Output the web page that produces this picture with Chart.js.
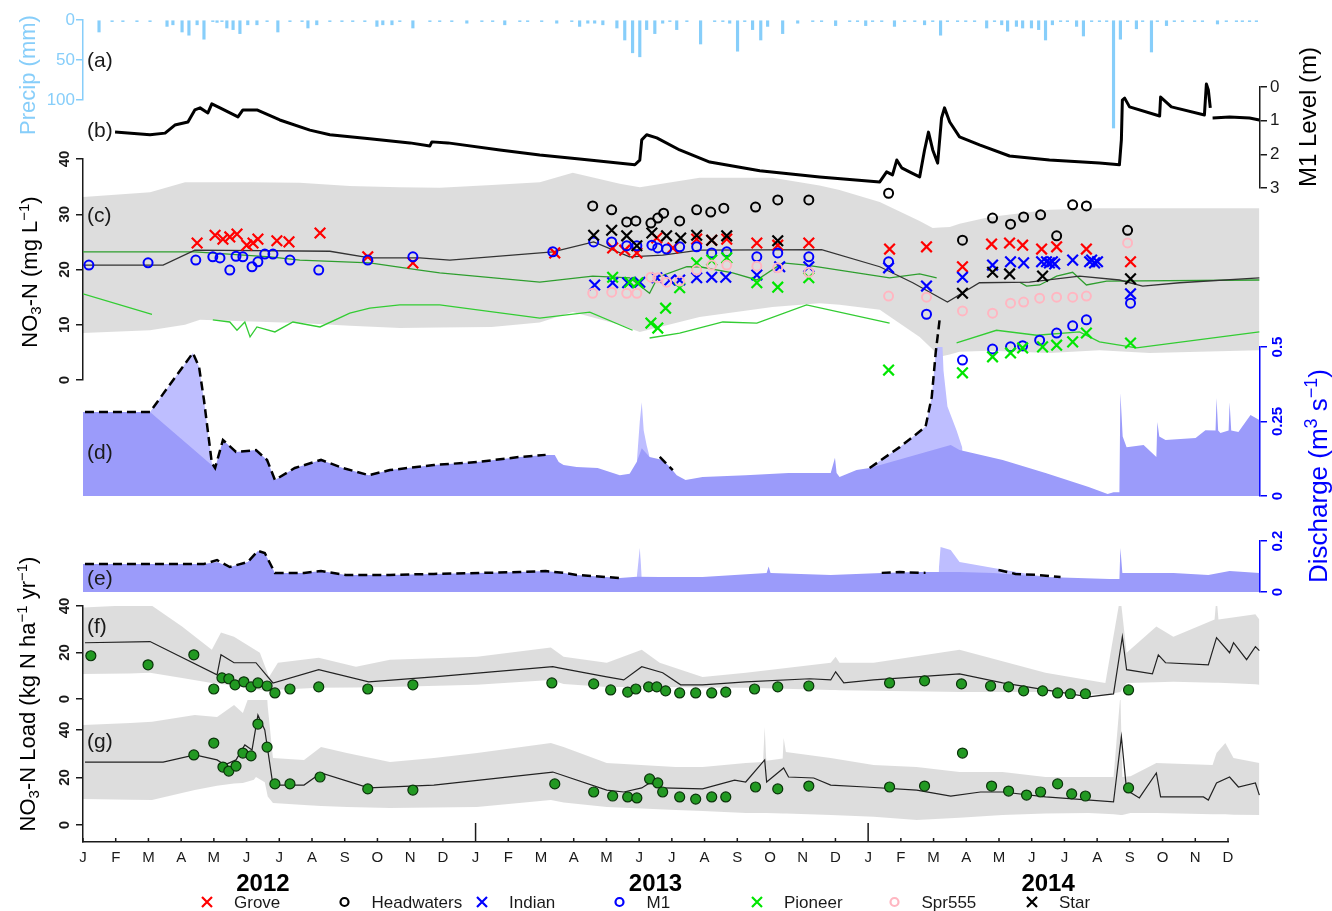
<!DOCTYPE html>
<html>
<head>
<meta charset="utf-8">
<title>NO3-N concentration, discharge and load</title>
<script src="https://cdn.jsdelivr.net/npm/chart.js@4.4.1/dist/chart.umd.min.js"></script>
<style>
  html, body { margin: 0; padding: 0; background: #fff; }
  #wrap { position: relative; width: 1332px; height: 911px; }
  #wrap canvas { position: absolute; left: 0; top: 0; pointer-events: none; }
</style>
</head>
<body>
<div id="wrap"></div>
<script>
// x values are months since 1 Jan 2012 (0 = Jan 2012, 12 = Jan 2013, 24 = Jan 2014)
const monthLetters = ['J', 'F', 'M', 'A', 'M', 'J', 'J', 'A', 'S', 'O', 'N', 'D'];
const xTickLabels = [].concat(monthLetters, monthLetters, monthLetters);
const yearTicks = [5.5, 17.5, 29.5];
const yearLabels = ['2012', '2013', '2014'];

const precipTicks = [0, 50, 100];
const precipLabels = ['0', '50', '100'];
const levelTicks = [0, 1, 2, 3];
const levelLabels = ['0', '1', '2', '3'];
const concTicks = [0, 10, 20, 30, 40];
const concLabels = ['0', '10', '20', '30', '40'];
const qTicksD = [0, 0.25, 0.5];
const qLabelsD = ['0', '0.25', '0.5'];
const qTicksE = [0, 0.2];
const qLabelsE = ['0', '0.2'];
const loadTicks = [0, 20, 40];
const loadLabels = ['0', '20', '40'];

// (a) daily precipitation, mm
const precip = [[0.49,15],[0.89,2],[1.22,2],[1.65,2],[2.05,2],[2.57,8],[2.75,6],[3.03,15],[3.24,19],[3.49,6],[3.70,24],[3.97,2],[4.10,3],[4.25,2],[4.40,10],[4.59,12],[4.80,17],[5.04,6],[5.32,6],[5.63,2],[5.96,15],[6.33,2],[6.70,2],[6.88,10],[7.15,6],[7.55,2],[7.92,2],[8.25,2],[8.62,2],[8.99,8],[9.17,6],[9.45,6],[9.69,2],[10.09,10],[10.61,2],[10.91,2],
  [11.28,2],[11.74,4],[12.20,2],[12.53,2],[12.90,6],[13.36,2],[13.60,2],[14.03,2],[14.49,4],[14.95,2],[15.19,8],[15.44,4],[15.65,4],[15.90,6],[16.33,10],[16.57,25],[16.81,41],[17.03,46],[17.24,12],[17.49,17],[17.73,4],[17.95,2],[18.16,12],[18.47,2],[18.89,30],[19.32,2],[19.57,2],[19.78,4],[20.02,39],[20.24,2],[20.48,12],[20.73,25],[20.94,8],[21.40,17],[21.86,4],[22.32,2],[22.59,2],[23.02,7],[23.45,2],[23.69,2],[23.94,7],[24.15,2],[24.43,2],
  [24.82,8],[25.13,2],[25.44,2],[25.74,6],[25.99,2],[26.23,19],[26.44,2],[26.75,2],[27.00,2],[27.27,2],[27.64,10],[27.88,2],[28.10,6],[28.28,14],[28.55,8],[28.74,10],[29.01,10],[29.23,12],[29.44,25],[29.65,6],[29.90,2],[30.11,2],[30.39,8],[30.60,20],[30.85,2],[31.09,2],[31.31,2],[31.52,135],[31.73,24],[31.95,2],[32.22,11],[32.41,2],[32.68,40],[32.86,2],[33.14,7],[33.38,2],[33.63,2],[34.00,2],[34.24,2],[34.70,5],[34.97,2],[35.28,2],[35.46,2],[35.68,2],[35.89,2]];

// (b) M1 water level, m below top
const m1Level = [[0.98,1.34],[2.05,1.42],[2.51,1.37],[2.81,1.13],[3.21,1.04],[3.42,0.68],[3.58,0.62],[3.82,0.77],[3.94,0.50],[4.19,0.62],[4.74,0.89],[4.89,0.68],[5.32,0.68],[6.02,0.98],[6.94,1.28],[7.55,1.42],[8.77,1.54],[10.00,1.66],[10.61,1.75],[10.67,1.63],[11.16,1.66],[12.75,1.87],[13.97,2.02],[15.19,2.14],[16.88,2.31],[17.03,2.17],[17.09,1.57],[17.24,1.42],[17.55,1.51],[18.25,1.87],[19.17,2.23],[20.70,2.49],[22.53,2.67],[24.37,2.82],[24.58,2.52],[24.76,2.61],[24.89,2.17],[25.04,2.40],[25.34,2.55],[25.59,2.67],[25.74,1.87],[25.86,1.34],[25.99,1.87],[26.14,2.26],[26.26,0.92],[26.35,0.62],[26.51,1.04],[26.81,1.48],[27.42,1.72],[28.34,2.05],[29.56,2.17],[31.09,2.26],[31.70,2.31],[31.76,1.57],[31.79,0.39],[31.86,0.33],[32.01,0.59],[32.93,0.86],[32.96,0.30],[33.29,0.59],[34.30,0.83],[34.36,-0.09],[34.42,0.09],[34.48,0.62],[34.51,null],[34.55,0.92],[35.07,0.89],[35.68,0.92],[35.98,0.98]];

// (c) NO3-N concentration, mg/L : band rows are [x, low, high]
const cBand = [[0,8.5,33.1],[2.05,9.0,34.0],[3.12,10.0,35.8],[3.58,10.9,35.8],[5.11,10.6,35.8],[6.63,10.3,35.7],[8.16,9.8,35.1],[9.69,9.4,34.9],[10.91,9.5,34.8],[12.5,9.6,35.3],[13.97,10.4,35.8],[14.98,12.3,37.5],[16.42,10.0,35.5],[17.03,8.7,34.9],[18.86,11.4,36.6],[21.09,13.2,36.6],[22.53,13.9,35.2],[23.14,13.6,34.4],[24.37,12.7,32.2],[25.59,7.8,28.8],[25.99,5.5,27.5],[26.20,4.2,27.6],[26.51,4.6,27.7],[26.81,5.1,28.3],[27.73,5.3,29.5],[29.56,4.9,30.8],[31.09,5.4,31.1],[32.62,4.9,31.1],[35.98,5.4,31.1]];
const cMean = [[0,20.8],[2.45,20.8],[3.42,23.5],[7.55,23.3],[8.77,22.1],[10.30,22.1],[11.22,21.7],[14.37,23.2],[15.62,25.0],[16.72,22.3],[17.73,22.6],[18.86,23.5],[22.59,23.6],[24.37,20.5],[25.38,17.6],[26.44,14.1],[27.42,17.6],[28.95,17.7],[30.48,18.8],[31.70,18.1],[32.41,17.0],[33.54,17.6],[35.98,18.5]];
const cGreenUp = [[0,23.2],[3.42,23.2],[5.72,22.3],[6.63,21.7],[8.77,21.2],[10.30,19.9],[10.91,19.4],[13.97,17.7],[15.59,18.8],[16.72,18.5],[17.33,15.7],[17.58,18.6],[18.47,20.5],[18.86,20.5],[19.87,19.4],[20.61,18.1],[21.40,21.2],[22.13,20.8],[24.67,18.5],[25.59,19.2],[26.11,18.5],[26.2,null],[28.65,17.7],[28.86,17.0],[29.26,17.2],[29.78,18.8],[30.27,19.5],[30.69,17.2],[31.31,17.9],[35.98,18.1]];
const cGreenLo = [[0,15.6],[2.11,11.9],[2.5,null],[3.97,10.9],[4.49,10.5],[4.71,9.0],[4.95,10.5],[5.11,7.8],[5.32,9.6],[5.87,8.7],[6.42,10.5],[7.25,9.6],[8.16,12.1],[8.77,13.0],[9.69,13.6],[10.91,13.6],[13.97,11.2],[15.50,12.3],[16.81,9.0],[17.0,null],[17.33,7.6],[18.25,8.5],[19.57,10.5],[20.61,10.3],[22.13,13.6],[24.67,10.3],[25.0,null],[26.72,6.7],[27.94,9.0],[29.17,8.1],[30.48,8.7],[31.09,6.9],[32.22,5.8],[35.98,8.7]];

const grove = [[3.49,24.8],[4.04,26.2],[4.28,25.5],[4.49,25.9],[4.71,26.4],[5.01,24.4],[5.20,24.8],[5.35,25.5],[5.93,25.2],[6.30,25.0],[7.25,26.6],[8.71,22.3],[10.09,21.2],[14.43,23.0],[16.20,23.9],[16.57,23.5],[16.94,23.0],[17.55,25.7],[18.04,23.9],[18.77,25.5],[19.23,25.3],[19.69,25.5],[20.61,24.8],[21.25,24.4],[22.20,24.8],[24.67,23.7],[25.80,24.1],[26.90,20.5],[27.79,24.6],[28.34,24.8],[28.74,24.4],[29.32,23.7],[29.78,24.1],[30.69,23.7],[32.04,21.4]];
const headwaters = [[15.59,31.5],[16.17,30.8],[16.63,28.6],[16.91,28.8],[17.37,28.4],[17.58,29.3],[17.76,30.2],[18.25,28.8],[18.77,30.8],[19.20,30.4],[19.60,31.1],[20.57,31.3],[21.25,32.6],[22.20,32.6],[24.64,33.8],[26.90,25.3],[27.82,29.3],[28.37,28.2],[28.77,29.5],[29.29,29.9],[29.78,26.1],[30.27,31.7],[30.69,31.5],[31.95,27.1]];
const indian = [[15.65,17.2],[16.20,17.6],[16.66,17.6],[17.03,17.7],[17.55,18.5],[17.95,18.1],[18.25,18.1],[18.77,18.5],[19.23,18.6],[19.66,18.6],[20.61,19.0],[21.31,20.5],[22.20,20.5],[24.64,20.3],[25.80,17.0],[26.90,18.6],[27.82,20.8],[28.37,21.4],[28.77,21.2],[29.32,21.4],[29.47,21.4],[29.56,21.2],[29.65,21.4],[29.72,21.0],[30.27,21.7],[30.79,21.4],[30.85,21.7],[30.94,21.2],[31.03,21.4],[32.04,15.6]];
const m1 = [[0.18,20.8],[1.99,21.2],[3.45,21.7],[3.97,22.3],[4.19,22.1],[4.49,19.9],[4.68,22.4],[4.89,22.3],[5.17,20.5],[5.35,21.4],[5.56,22.8],[5.81,22.8],[6.33,21.7],[7.21,19.9],[8.71,21.7],[10.09,22.3],[14.37,23.2],[15.62,25.0],[16.17,25.0],[16.63,24.3],[16.94,24.3],[17.40,24.4],[17.58,23.9],[17.85,23.7],[18.25,24.1],[18.77,24.1],[19.23,23.0],[19.69,23.2],[20.61,22.3],[21.25,23.0],[22.20,22.3],[24.64,21.4],[25.80,11.9],[26.90,3.6],[27.82,5.6],[28.37,6.0],[28.74,6.2],[29.26,7.2],[29.78,8.5],[30.27,9.8],[30.69,10.9],[32.04,13.9]];
const pioneer = [[16.20,18.6],[16.72,17.7],[16.97,17.6],[17.37,10.3],[17.58,9.4],[17.82,13.0],[18.25,16.7],[18.77,21.2],[19.23,21.7],[19.69,22.1],[20.61,17.6],[21.25,16.8],[22.20,18.5],[24.64,1.8],[26.90,1.3],[27.82,4.2],[28.37,4.9],[28.74,5.8],[29.35,6.0],[29.78,6.3],[30.27,6.9],[30.69,8.5],[32.04,6.7]];
const spr555 = [[15.59,15.7],[16.17,15.9],[16.63,15.7],[16.94,15.7],[17.37,18.6],[17.58,18.5],[17.85,17.7],[18.25,17.9],[18.77,19.9],[19.23,20.8],[19.69,20.8],[20.61,20.6],[21.25,20.3],[22.20,19.5],[24.64,15.2],[25.80,15.0],[26.90,12.5],[27.82,12.1],[28.37,13.9],[28.77,14.1],[29.26,14.8],[29.78,15.0],[30.27,15.0],[30.69,15.2],[31.95,24.8]];
const star = [[15.62,26.2],[16.17,27.1],[16.63,26.1],[16.94,24.3],[17.40,26.6],[17.85,26.1],[18.28,25.7],[18.77,26.2],[19.23,25.3],[19.69,26.1],[21.25,25.2],[26.90,15.7],[27.82,19.5],[28.34,19.2],[29.35,18.8],[32.04,18.3]];

// (d) discharge, m3/s
const qDash = [[0.06,0.282],[2.05,0.282],[3.36,0.480],[3.55,0.433],[3.70,0.322],[3.94,0.111],[4.04,0.094],[4.28,0.188],[4.68,0.148],[5.29,0.154],[5.63,0.121],[5.87,0.054],[6.48,0.094],[7.28,0.121],[7.95,0.094],[8.74,0.070],[9.39,0.087],[10.73,0.104],[12.05,0.114],[13.36,0.131],[14.15,0.138],[14.3,null],[17.64,0.131],[18.04,0.087],[18.2,null],[24.06,0.094],[24.98,0.164],[25.77,0.232],[25.96,0.332],[26.08,0.480],[26.20,0.591]];
const qMeasured = [[0,0.282],[2.05,0.282],[4.04,0.094],[4.28,0.188],[4.68,0.148],[5.29,0.154],[5.63,0.121],[5.87,0.054],[6.48,0.094],[7.28,0.121],[7.95,0.094],[8.74,0.070],[9.39,0.087],[10.73,0.104],[12.05,0.114],[13.36,0.131],[14.15,0.138],[14.43,0.138],[14.55,0.114],[14.70,0.104],[15.10,0.097],[15.74,0.094],[16.42,0.070],[16.72,0.075],[16.94,0.115],[17.09,0.160],[17.33,0.131],[17.73,0.121],[17.95,0.097],[18.16,0.070],[18.43,0.054],[18.95,0.064],[20.27,0.070],[21.58,0.077],[22.87,0.077],[23.00,0.128],[23.05,0.077],[23.14,0.064],[23.66,0.087],[24.06,0.094],[26.54,0.171],[26.81,0.154],[28.13,0.121],[29.44,0.077],[30.76,0.030],[31.34,0.007],[31.52,0.013],[31.70,0.013],[31.73,0.346],[31.80,0.200],[31.92,0.164],[32.44,0.171],[32.83,0.131],[32.86,0.248],[32.92,0.200],[33.11,0.188],[34.03,0.195],[34.33,0.221],[34.64,0.220],[34.67,0.329],[34.72,0.220],[34.79,0.211],[35.04,0.220],[35.07,0.315],[35.12,0.220],[35.34,0.215],[35.71,0.272],[35.98,0.255]];
const qUpper = [[0,0.282],[2.05,0.282],[3.36,0.480],[3.55,0.433],[3.70,0.322],[3.94,0.111],[4.04,0.094],[4.1,null],[16.94,0.115],[17.03,0.250],[17.09,0.315],[17.15,0.220],[17.24,0.170],[17.33,0.131],[17.4,null],[24.06,0.094],[24.98,0.164],[25.77,0.232],[25.96,0.332],[26.08,0.480],[26.20,0.560],[26.26,0.580],[26.32,0.420],[26.44,0.300],[26.72,0.220],[26.90,0.160],[27.0,null]];

// (e) discharge, m3/s
const eDash = [[0.06,0.110],[3.70,0.110],[4.10,0.125],[4.49,0.098],[5.04,0.118],[5.35,0.161],[5.56,0.153],[5.87,0.075],[6.76,0.075],[7.28,0.082],[8.04,0.067],[9.39,0.067],[10.73,0.071],[13.36,0.078],[14.15,0.082],[14.70,0.075],[15.10,0.067],[16.42,0.055],[16.5,null],[24.43,0.075],[24.98,0.078],[25.77,0.075],[25.9,null],[28.00,0.086],[28.52,0.071],[29.17,0.067],[29.90,0.059]];
const eMeasured = [[0,0.110],[3.70,0.110],[4.10,0.118],[4.49,0.098],[5.04,0.118],[5.35,0.161],[5.56,0.153],[5.87,0.075],[6.76,0.075],[7.28,0.082],[8.04,0.067],[9.39,0.067],[10.73,0.071],[13.36,0.078],[14.15,0.082],[14.70,0.075],[15.10,0.067],[16.42,0.055],[16.94,0.060],[17.64,0.059],[18.95,0.059],[20.91,0.075],[20.97,0.100],[21.03,0.075],[22.87,0.067],[24.43,0.075],[25.50,0.078],[26.17,0.078],[26.81,0.078],[27.85,0.075],[29.44,0.059],[31.40,0.051],[31.70,0.051],[31.73,0.173],[31.79,0.075],[33.35,0.075],[34.42,0.067],[35.07,0.082],[35.98,0.075]];
const eUpper = [[16.94,0.060],[17.03,0.173],[17.09,0.060],[17.15,null],[26.17,0.078],[26.23,0.176],[26.54,0.165],[26.81,0.118],[27.85,0.094],[29.44,0.059]];

// (f) NO3-N load, kg N/ha/yr
const fBand = [[0,10.8,39.4],[1.44,11.0,40.3],[2.05,11.3,40.7],[3.03,9.0,31.2],[3.94,6.9,21.2],[4.22,6.5,28.6],[4.62,5.8,26.8],[5.41,3.9,19.9],[5.69,3.6,9.5],[5.96,4.0,15.6],[7.21,4.8,17.7],[8.35,5.0,13.9],[9.39,5.2,16.9],[12.05,6.1,18.2],[14.31,8.2,22.1],[14.70,6.5,18.2],[16.02,5.2,15.6],[17.09,5.2,21.2],[17.64,5.2,15.6],[18.95,4.9,9.5],[20.27,4.8,11.3],[22.87,3.9,15.6],[23.02,3.9,18.2],[23.14,3.8,15.6],[24.18,3.5,15.6],[26.81,3.0,21.2],[29.44,3.0,11.3],[31.27,1.7,6.9],[31.73,3.0,44.2],[31.92,6.9,19.9],[32.83,7.2,31.2],[33.35,7.4,26.8],[34.61,7.0,34.2],[34.67,7.0,44.2],[34.73,7.0,34.2],[35.86,6.3,36.4],[35.98,6.1,34.2]];
const fLine = [[0.06,24.2],[2.05,24.7],[4.10,10.4],[4.22,19.0],[4.62,15.6],[5.29,15.6],[5.81,6.9],[7.21,12.6],[8.74,7.4],[10.73,9.5],[14.37,13.9],[14.55,13.4],[16.02,9.5],[16.54,8.2],[17.09,13.9],[17.73,11.3],[18.28,6.1],[18.95,6.1],[20.27,7.4],[22.23,8.7],[22.87,8.2],[23.02,11.7],[23.27,6.9],[24.18,8.2],[26.81,10.8],[28.13,6.9],[30.76,0.9],[31.52,2.2],[31.79,26.8],[31.92,12.6],[32.71,10.8],[32.89,19.0],[33.11,15.6],[34.42,14.7],[34.67,26.4],[35.07,19.9],[35.19,24.2],[35.59,16.9],[35.86,22.5],[35.98,20.8]];
const fDots = [[0.24,18.6],[1.99,14.7],[3.39,19.0],[4.00,4.3],[4.25,9.1],[4.46,8.7],[4.65,6.1],[4.92,7.4],[5.14,5.2],[5.35,6.9],[5.63,5.6],[5.87,2.6],[6.33,4.3],[7.21,5.2],[8.71,4.3],[10.09,6.1],[14.34,6.9],[15.62,6.5],[16.14,3.9],[16.66,3.0],[16.91,4.3],[17.30,5.2],[17.55,5.2],[17.82,3.5],[18.25,2.6],[18.74,2.6],[19.23,2.6],[19.66,3.0],[20.54,4.3],[21.25,5.2],[22.20,5.6],[24.67,6.9],[25.74,7.8],[26.87,6.5],[27.76,5.6],[28.31,5.2],[28.77,3.5],[29.35,3.5],[29.81,2.6],[30.20,2.2],[30.66,2.2],[31.98,3.9]];

// (g) NO3-N load, kg N/ha/yr
const gBand = [[0,10.9,42.1],[1.44,10.6,42.9],[2.11,10.5,43.5],[3.42,14.7,46.3],[4.10,16.5,45.5],[4.62,17.5,50.5],[4.89,17.7,47.2],[5.23,19.0,60],[5.29,20.2,70],[5.56,18,70],[5.65,12,50],[5.81,9.3,28.2],[6.76,8.4,27.4],[7.28,8.0,32.8],[8.07,7.6,30.3],[9.39,7.2,26.5],[10.73,7.4,28.2],[12.05,7.6,30.3],[14.31,10.5,34.5],[14.70,9.5,32.8],[16.02,7.6,26.1],[18.13,6.3,24.4],[18.95,5.9,24.4],[20.27,5.1,26.1],[20.80,5.0,26.5],[20.85,5.0,41.3],[20.90,5.0,27.0],[21.40,4.8,28.0],[21.43,4.8,36.6],[21.50,4.8,30.7],[22.87,4.2,28.2],[24.18,3.5,25.3],[25.50,2.1,24.4],[26.81,3.0,22.3],[28.13,4.2,22.3],[29.44,4.8,20.2],[30.76,5.1,20.2],[31.52,4.5,20.2],[31.73,4.2,55],[31.79,4.2,20.2],[32.04,5.1,20.5],[32.83,5.0,26.1],[34.55,4.5,25.3],[34.67,4.5,30.3],[34.94,4.5,34.5],[35.19,4.3,28.2],[35.98,4.2,26.1]];
const gLine = [[0.06,26.5],[2.45,26.5],[3.42,29.5],[4.10,27.4],[4.34,25.3],[4.68,27.4],[4.95,33.7],[5.17,31.6],[5.35,46.3],[5.56,40.0],[5.81,16.8],[6.76,16.8],[7.28,21.9],[8.74,15.6],[10.73,16.8],[14.37,22.3],[16.02,14.7],[16.54,13.9],[17.09,15.6],[17.33,17.7],[17.73,15.6],[18.95,15.2],[19.93,18.9],[20.27,18.1],[20.85,27.4],[20.91,18.1],[21.43,24.0],[21.58,20.2],[22.35,19.8],[22.87,16.8],[23.94,16.0],[25.50,14.7],[26.54,12.2],[27.45,13.9],[28.13,13.9],[29.44,11.8],[31.52,9.7],[31.76,37.1],[31.92,14.7],[32.31,11.4],[32.83,21.9],[32.96,11.8],[34.27,11.8],[34.42,10.5],[34.67,17.7],[35.07,20.2],[35.34,16.0],[35.86,17.7],[35.98,12.6]];
const gDots = [[3.39,29.5],[4.00,34.5],[4.28,24.4],[4.46,22.7],[4.68,24.8],[4.89,30.3],[5.14,29.1],[5.35,42.5],[5.63,32.8],[5.87,17.3],[6.33,17.3],[7.25,20.2],[8.71,15.2],[10.09,14.7],[14.43,17.3],[15.62,13.9],[16.20,12.2],[16.66,11.8],[16.94,11.4],[17.33,19.4],[17.58,17.7],[17.73,13.9],[18.25,11.8],[18.74,10.9],[19.23,11.8],[19.66,11.8],[20.57,16.0],[21.25,15.2],[22.20,16.4],[24.67,16.0],[25.74,16.4],[26.90,30.3],[27.79,16.4],[28.31,14.3],[28.86,12.6],[29.29,13.9],[29.81,17.3],[30.24,13.1],[30.66,12.2],[31.98,15.6]];

const siteNames = ['Grove', 'Headwaters', 'Indian', 'M1', 'Pioneer', 'Spr555', 'Star'];
const siteData = {Grove: grove, Headwaters: headwaters, Indian: indian, M1: m1, Pioneer: pioneer, Spr555: spr555, Star: star};
const siteStyles = {
  Grove: {shape: 'x', color: '#ff0000'},
  Headwaters: {shape: 'o', color: '#000000'},
  Indian: {shape: 'x', color: '#0000ff'},
  M1: {shape: 'o', color: '#0000ff'},
  Pioneer: {shape: 'x', color: '#00e600'},
  Spr555: {shape: 'o', color: '#ffb6c1'},
  Star: {shape: 'x', color: '#000000'}
};

const W = 1332, H = 911;
const FONT = '"Liberation Sans", Arial, Helvetica, sans-serif';
const INK = '#1a1a1a';
const SKY = '#87cefa';
const BLUE = '#0000ff';
const BAND = 'rgba(0,0,0,0.135)';
const Q_DARK = '#9b9bfa';
const Q_LIGHT = '#bebeff';
const CLEAR = 'rgba(0,0,0,0)';

Chart.defaults.font.family = FONT;
Chart.defaults.color = INK;

function xy(pairs) {
  return pairs.map(([x, y]) => ({x, y}));
}

function makeCtx(id) {
  const c = document.createElement('canvas');
  c.id = id;
  c.width = W;
  c.height = H;
  document.getElementById('wrap').appendChild(c);
  return c.getContext('2d');
}

function lineSet(pairs, color, width, extra) {
  return Object.assign({data: xy(pairs), borderColor: color, borderWidth: width, pointRadius: 0, fill: false, tension: 0}, extra || {});
}

function areaSet(pairs, color, order) {
  return {data: xy(pairs), borderColor: CLEAR, borderWidth: 1, backgroundColor: color, fill: 'origin', pointRadius: 0, tension: 0, order};
}

// two datasets: the low edge, then the high edge filled down to it
function bandSets(rows, order) {
  return [
    {data: rows.map(([x, lo]) => ({x, y: lo})), borderColor: CLEAR, borderWidth: 1, pointRadius: 0, fill: false, order},
    {data: rows.map(([x, , hi]) => ({x, y: hi})), borderColor: CLEAR, borderWidth: 1, pointRadius: 0, fill: '-1', backgroundColor: BAND, order}
  ];
}

function siteSet(name, i) {
  const s = siteStyles[name];
  const isX = s.shape === 'x';
  return {
    label: name, data: xy(siteData[name]), showLine: false, order: 8 - i,
    pointStyle: isX ? 'crossRot' : 'circle',
    pointRadius: isX ? 7.5 : 4.5,
    pointBorderWidth: isX ? 2.2 : 2,
    pointBorderColor: s.color, pointBackgroundColor: CLEAR, borderColor: s.color
  };
}

function dotSet(pairs) {
  return {data: xy(pairs), showLine: false, pointStyle: 'circle', pointRadius: 5,
    pointBackgroundColor: '#229922', pointBorderColor: '#0a330a', pointBorderWidth: 1.2, order: 1};
}

function yAxis(o) {
  return {
    type: 'linear', position: o.position, min: o.min, max: o.max, reverse: !!o.reverse,
    afterBuildTicks: s => { s.ticks = o.ticks.map(v => ({value: v})); },
    afterFit: s => { s.width = o.width; },
    border: {display: true, color: o.color, width: 1.5},
    grid: {drawOnChartArea: false, drawTicks: true, tickLength: 7, color: o.color, lineWidth: 1.5},
    ticks: {
      autoSkip: false, color: o.color, padding: o.pad,
      minRotation: o.rotate ? 90 : 0, maxRotation: o.rotate ? 90 : 0,
      crossAlign: o.rotate ? 'center' : 'near',
      font: o.rotate ? {size: 15, weight: 'bold'} : {size: 17},
      callback: (v, i) => o.labels[i]
    }
  };
}

function panel(id, type, datasets, pad, y) {
  return new Chart(makeCtx(id), {
    type,
    data: {datasets},
    options: {
      responsive: false, animation: false, events: [],
      layout: {padding: pad},
      plugins: {legend: {display: false}, tooltip: {enabled: false}},
      scales: {
        x: {type: 'linear', min: 0, max: 36, display: false, offset: false, grid: {offset: false}},
        y
      }
    }
  });
}

// rotated axis title with sub/superscript parts: [text, 0 normal | 1 sup | -1 sub]
function drawRich(ctx, parts, cx, cy, size, color) {
  const fontFor = k => `${k ? Math.round(size * 0.68) : size}px ${FONT}`;
  let w = 0;
  parts.forEach(([t, k]) => { ctx.font = fontFor(k); w += ctx.measureText(t).width; });
  ctx.save();
  ctx.translate(cx, cy);
  ctx.rotate(-Math.PI / 2);
  ctx.fillStyle = color;
  ctx.textAlign = 'left';
  ctx.textBaseline = 'alphabetic';
  let x = -w / 2;
  parts.forEach(([t, k]) => {
    ctx.font = fontFor(k);
    const dy = k === 1 ? -size * 0.38 : (k === -1 ? size * 0.2 : 0);
    ctx.fillText(t, x, size * 0.36 + dy);
    x += ctx.measureText(t).width;
  });
  ctx.restore();
}

const decor = {
  id: 'decor',
  afterDraw(chart) {
    const ctx = chart.ctx;
    const xs = chart.scales.x;
    ctx.save();

    // month tick marks point up from the axis; January ones are longer
    ctx.strokeStyle = INK;
    ctx.lineWidth = 1.5;
    xTickLabels.forEach((_, v) => {
      const px = xs.getPixelForValue(v);
      const len = v > 0 && v % 12 === 0 ? 19 : 4;
      ctx.beginPath();
      ctx.moveTo(px, xs.top);
      ctx.lineTo(px, xs.top - len);
      ctx.stroke();
    });

    // panel tags
    ctx.fillStyle = INK;
    ctx.font = `21px ${FONT}`;
    ctx.textAlign = 'left';
    ctx.textBaseline = 'middle';
    [['(a)', 87, 61], ['(b)', 87, 131], ['(c)', 87, 216], ['(d)', 87, 453],
     ['(e)', 87, 579], ['(f)', 87, 627], ['(g)', 87, 742]].forEach(([t, x, y]) => ctx.fillText(t, x, y));

    // axis titles
    drawRich(ctx, [['Precip (mm)', 0]], 27, 75, 22, SKY);
    drawRich(ctx, [['M1 Level (m)', 0]], 1307, 117, 24, '#000');
    drawRich(ctx, [['NO', 0], ['3', -1], ['-N (mg L', 0], ['\u22121', 1], [')', 0]], 29, 272, 22, '#000');
    drawRich(ctx, [['Discharge (m', 0], ['3', 1], [' s', 0], ['\u22121', 1], [')', 0]], 1318, 476, 26, BLUE);
    drawRich(ctx, [['NO', 0], ['3', -1], ['-N Load (kg N ha', 0], ['\u22121', 1], [' yr', 0], ['\u22121', 1], [')', 0]], 27, 694, 22, '#000');

    // legend
    ctx.font = `17px ${FONT}`;
    ctx.textAlign = 'left';
    ctx.textBaseline = 'middle';
    siteNames.forEach((name, i) => {
      const s = siteStyles[name];
      const mx = 207 + i * 137.5, my = 902;
      ctx.strokeStyle = s.color;
      ctx.lineWidth = 2.2;
      ctx.beginPath();
      if (s.shape === 'x') {
        ctx.moveTo(mx - 5, my - 5); ctx.lineTo(mx + 5, my + 5);
        ctx.moveTo(mx + 5, my - 5); ctx.lineTo(mx - 5, my + 5);
      } else {
        ctx.arc(mx, my, 4, 0, Math.PI * 2);
      }
      ctx.stroke();
      ctx.fillStyle = INK;
      ctx.fillText(name, mx + 27, my + 1);
    });
    ctx.restore();
  }
};

// (a) precipitation
panel('precip', 'bar',
  [{data: xy(precip), backgroundColor: SKY, barThickness: 2.5, clip: false}],
  {left: 0, right: 72, top: 20, bottom: H - 100},
  yAxis({position: 'left', min: 0, max: 100, reverse: true, ticks: precipTicks, labels: precipLabels, color: SKY, width: 83, pad: 1}));

// (c) concentrations
panel('conc', 'line',
  [].concat(
    bandSets(cBand, 30),
    [lineSet(cMean, '#333333', 1.3, {order: 20}),
     lineSet(cGreenUp, '#2e9e2e', 1.3, {order: 20}),
     lineSet(cGreenLo, '#33cc33', 1.3, {order: 20})],
    siteNames.map(siteSet)
  ),
  {left: 0, right: 72, top: 159, bottom: H - 380},
  yAxis({position: 'left', min: 0, max: 40, ticks: concTicks, labels: concLabels, color: INK, width: 83, pad: 3, rotate: true}));

// (d) discharge
panel('qd', 'line',
  [lineSet(qDash, '#000', 2.5, {borderDash: [9, 5], clip: false, order: 1}),
   areaSet(qMeasured, Q_DARK, 2),
   areaSet(qUpper, Q_LIGHT, 3)],
  {left: 83, right: 0, top: 347, bottom: H - 496},
  yAxis({position: 'right', min: 0, max: 0.5, ticks: qTicksD, labels: qLabelsD, color: BLUE, width: 72, pad: -4, rotate: true}));

// (e) discharge
panel('qe', 'line',
  [lineSet(eDash, '#000', 2.5, {borderDash: [9, 5], clip: false, order: 1}),
   areaSet(eMeasured, Q_DARK, 2),
   areaSet(eUpper, Q_LIGHT, 3)],
  {left: 83, right: 0, top: 541, bottom: H - 592},
  yAxis({position: 'right', min: 0, max: 0.2, ticks: qTicksE, labels: qLabelsE, color: BLUE, width: 72, pad: 0, rotate: true}));

// (f) load
panel('loadf', 'line',
  [].concat(bandSets(fBand, 30), [lineSet(fLine, '#222', 1.2, {order: 10}), dotSet(fDots)]),
  {left: 0, right: 72, top: 606, bottom: H - 699},
  yAxis({position: 'left', min: 0, max: 40, ticks: loadTicks, labels: loadLabels, color: INK, width: 83, pad: 3, rotate: true}));

// (g) load; axis runs down to the time axis
panel('loadg', 'line',
  [].concat(bandSets(gBand, 30), [lineSet(gLine, '#222', 1.2, {order: 10}), dotSet(gDots)]),
  {left: 0, right: 72, top: 700, bottom: H - 842},
  yAxis({position: 'left', min: -7.16, max: 52.63, ticks: loadTicks, labels: loadLabels, color: INK, width: 83, pad: 3, rotate: true}));

// (b) M1 level, on top of the others
panel('level', 'line',
  [lineSet(m1Level, '#000', 3, {clip: false, borderJoinStyle: 'round'})],
  {left: 83, right: 0, top: 87, bottom: H - 188},
  yAxis({position: 'right', min: 0, max: 3, reverse: true, ticks: levelTicks, labels: levelLabels, color: INK, width: 72, pad: 3}));

// shared time axis, titles, tags and legend
new Chart(makeCtx('axis'), {
  type: 'line',
  data: {datasets: []},
  options: {
    responsive: false, animation: false, events: [],
    layout: {padding: {left: 83, right: W - 1228, top: 823, bottom: 13}},
    plugins: {legend: {display: false}, tooltip: {enabled: false}},
    scales: {
      x: {
        type: 'linear', position: 'bottom', min: 0, max: 35, weight: 0,
        afterBuildTicks: s => { s.ticks = xTickLabels.map((_, i) => ({value: i})); },
        afterFit: s => { s.height = 26; },
        border: {display: true, color: INK, width: 1.5},
        grid: {drawOnChartArea: false, drawTicks: false},
        ticks: {autoSkip: false, maxRotation: 0, padding: 7, color: INK, font: {size: 15},
          callback: (v, i) => xTickLabels[i]}
      },
      x2: {
        type: 'linear', axis: 'x', position: 'bottom', min: 0, max: 35, weight: 1,
        afterBuildTicks: s => { s.ticks = yearTicks.map(v => ({value: v})); },
        afterFit: s => { s.height = 30; },
        border: {display: false},
        grid: {display: false, drawTicks: false},
        ticks: {autoSkip: false, maxRotation: 0, padding: 2, color: '#000', font: {size: 24, weight: 'bold'},
          callback: (v, i) => yearLabels[i]}
      },
      y: {display: false, min: 0, max: 1}
    }
  },
  plugins: [decor]
});
</script>
</body>
</html>
